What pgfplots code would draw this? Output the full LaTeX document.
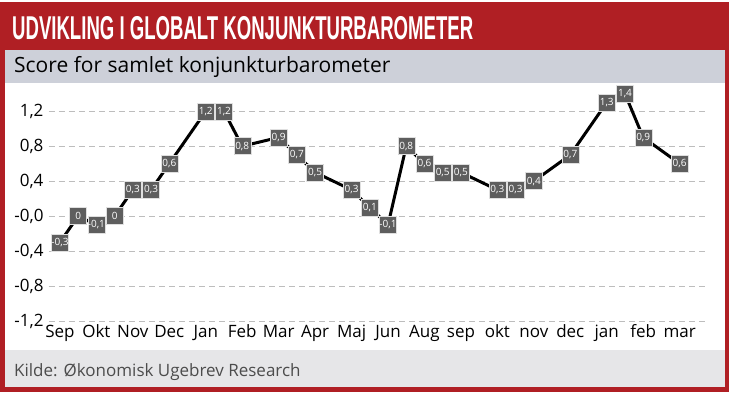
\documentclass[border=0pt]{standalone}
\usepackage{fontspec}
\setmainfont{Open Sans}
\newfontfamily\titlefont{Liberation Sans}
\usepackage{pgfplots}
\pgfplotsset{compat=1.18}
\definecolor{hdrred}{HTML}{B01F24}
\definecolor{subgray}{HTML}{CDD0D9}
\definecolor{footgray}{HTML}{E6E6E8}
\definecolor{boxgray}{HTML}{5E5E5E}
\definecolor{gridgray}{HTML}{BDBDBD}
\begin{document}
\begin{tikzpicture}[x=1pt,y=1pt]
\useasboundingbox (0,0) rectangle (729,393);
\fill[white] (0,0) rectangle (729,393);
\fill[hdrred] (0,1) rectangle (729,391);
\fill[subgray] (5,310) rectangle (725,343);
\fill[white] (5,43) rectangle (725,310);
\fill[footgray] (5,6) rectangle (725,43);
\node[anchor=base west, inner sep=0pt, text=white] at (12,353)
  {\resizebox{461pt}{\height}{\titlefont\bfseries\fontsize{33}{33}\selectfont UDVIKLING I GLOBALT KONJUNKTURBAROMETER}};
\node[anchor=base west, inner sep=0pt, text=black] at (14,320)
  {\fontsize{21}{21}\selectfont Score for samlet konjunkturbarometer};
\node[anchor=base west, inner sep=0pt, text=black!70] at (14,16)
  {\fontsize{17}{17}\selectfont Kilde: Økonomisk Ugebrev Research};
\begin{axis}[
  at={(49pt,72pt)}, anchor=south west,
  scale only axis, width=658pt, height=236pt,
  xmin=-0.6, xmax=35.5, ymin=-1.2, ymax=1.5,
  clip=false,
  axis line style={draw=none},
  major tick length=0pt,
  ytick={-1.2,-0.8,-0.4,0,0.4,0.8,1.2},
  yticklabels={{-1,2},{-0,8},{-0,4},{-0,0},{0,4},{0,8},{1,2}},
  ymajorgrids,
  grid style={draw=gridgray, line width=0.9pt, dash pattern=on 6pt off 4pt},
  xtick={0,2,...,34},
  xticklabels={Sep,Okt,Nov,Dec,Jan,Feb,Mar,Apr,Maj,Jun,Aug,sep,okt,nov,dec,jan,feb,mar},
  ticklabel style={font=\fontsize{17}{17}\selectfont, text=black},
  yticklabel style={xshift=-2pt},
  xticklabel style={anchor=north, text height=12pt, text depth=4pt, yshift=-1pt},
  point meta=explicit symbolic,
  nodes near coords,
  every node near coord/.append style={anchor=center, fill=boxgray, draw=white!75!gray, line width=0.4pt,
     text=white, inner sep=0pt, minimum width=17pt, minimum height=17pt,
     font=\fontsize{10}{10}\selectfont},
]
\addplot[black, line width=3pt, line join=round, mark=none] coordinates {
(0,-0.3) [-0,3]
(1,0) [0]
(2,-0.1) [-0,1]
(3,0) [0]
(4,0.3) [0,3]
(5,0.3) [0,3]
(6,0.6) [0,6]
(8,1.2) [1,2]
(9,1.2) [1,2]
(10,0.8) [0,8]
(12,0.9) [0,9]
(13,0.7) [0,7]
(14,0.5) [0,5]
(16,0.3) [0,3]
(17,0.1) [0,1]
(18,-0.1) [-0,1]
(19,0.8) [0,8]
(20,0.6) [0,6]
(21,0.5) [0,5]
(22,0.5) [0,5]
(24,0.3) [0,3]
(25,0.3) [0,3]
(26,0.4) [0,4]
(28,0.7) [0,7]
(30,1.3) [1,3]
(31,1.4) [1,4]
(32,0.9) [0,9]
(34,0.6) [0,6]
};
\end{axis}
\end{tikzpicture}
\end{document}
